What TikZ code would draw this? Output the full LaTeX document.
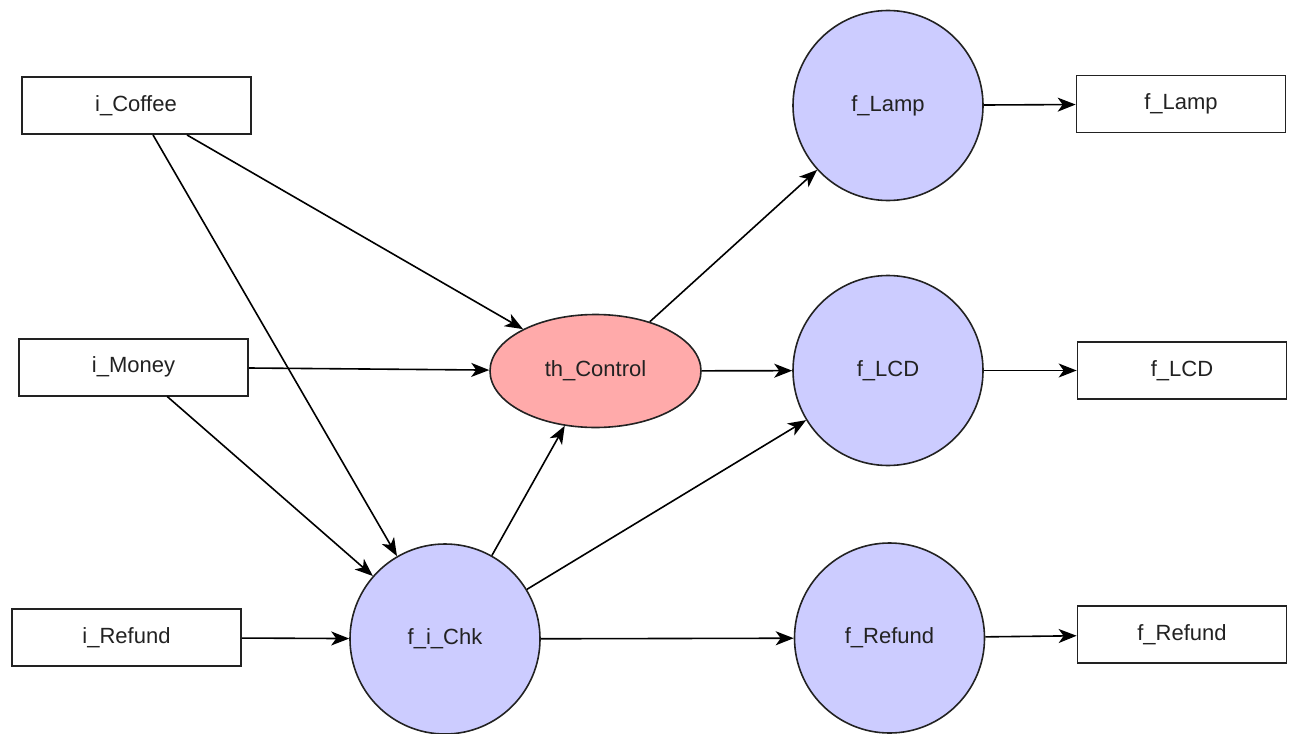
\documentclass[tikz,border=0pt]{standalone}
\usepackage{fontspec}
\setmainfont{Liberation Sans}
\usetikzlibrary{arrows.meta,shapes.geometric}

\definecolor{funcfill}{HTML}{CCCCFF}
\definecolor{threadfill}{HTML}{FFAAAA}
\definecolor{edgegray}{HTML}{222222}
\definecolor{labelgray}{HTML}{222222}

\tikzset{
  labelfont/.style={font=\fontsize{22}{25}\selectfont, text=labelgray},
  iobox/.style={draw=edgegray, line width=2pt, fill=white, rectangle,
    minimum width=229pt, minimum height=57pt, inner sep=0pt, labelfont},
  outbox/.style={iobox, minimum width=209pt, line width=1.7pt},
  func/.style={draw=edgegray, line width=1.6pt, fill=funcfill, circle,
    minimum size=190pt, inner sep=0pt, labelfont},
  thread/.style={draw=edgegray, line width=1.6pt, fill=threadfill, ellipse,
    minimum width=211pt, minimum height=113pt, inner sep=0pt, labelfont},
  flow/.style={draw=black, line width=1.6pt,
    -{Stealth[length=18pt, width=14pt, inset=5pt]}},
}

\begin{document}
\begin{tikzpicture}[x=1pt, y=-1pt]
  \useasboundingbox (0,0) rectangle (1292,733);

  % inputs
  \node[iobox] (iCoffee) at (136,105.5) {i\_Coffee};
  \node[iobox] (iMoney)  at (133.5,367) {i\_Money};
  \node[iobox] (iRefund) at (126.5,637.5) {i\_Refund};

  % processing
  \node[thread] (thControl) at (595.5,371) {th\_Control};
  \node[func] (fiChk)   at (445,639)   {f\_i\_Chk};
  \node[func] (fLamp)   at (888,105.5) {f\_Lamp};
  \node[func] (fLCD)    at (888,370.5) {f\_LCD};
  \node[func] (fRefund) at (889.5,638) {f\_Refund};

  % outputs
  \node[outbox] (oLamp)   at (1181,104)   {f\_Lamp};
  \node[outbox] (oLCD)    at (1182,370.5) {f\_LCD};
  \node[outbox] (oRefund) at (1182,634.5) {f\_Refund};

  % data flows
  \draw[flow] (iCoffee) -- (thControl);
  \draw[flow] (iCoffee) -- (fiChk);
  \draw[flow] (iMoney) -- (thControl);
  \draw[flow] (iMoney) -- (fiChk);
  \draw[flow] (iRefund) -- (fiChk);
  \draw[flow] (fiChk) -- (thControl);
  \draw[flow] (fiChk) -- (fLCD);
  \draw[flow] (fiChk) -- (fRefund);
  \draw[flow] (thControl) -- (fLamp);
  \draw[flow] (thControl) -- (fLCD);
  \draw[flow] (fLamp) -- (oLamp);
  \draw[flow] (fLCD) -- (oLCD);
  \draw[flow] (fRefund) -- (oRefund);
\end{tikzpicture}
\end{document}
